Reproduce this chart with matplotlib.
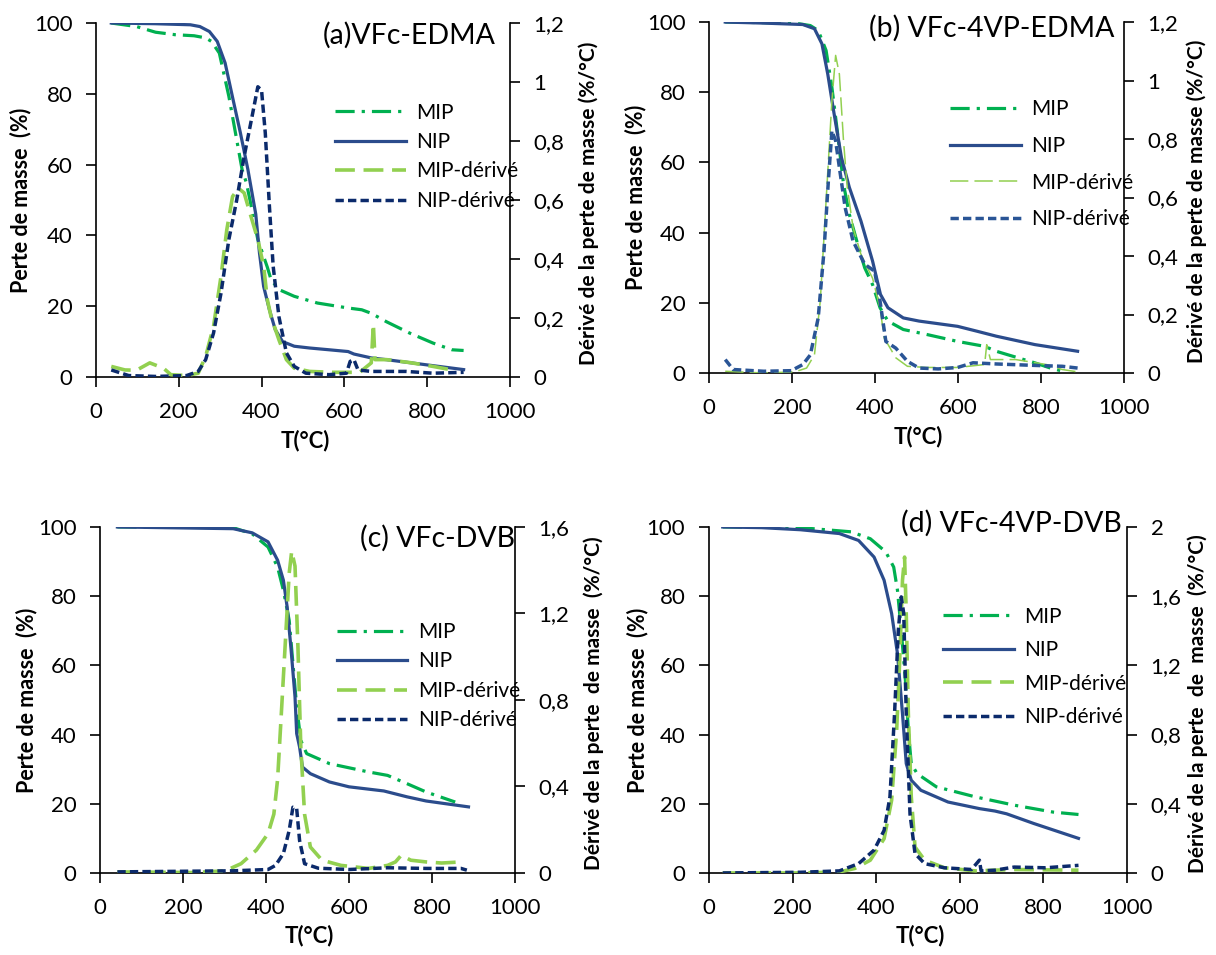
import matplotlib
matplotlib.use('Agg')
import matplotlib.pyplot as plt
from matplotlib.ticker import FuncFormatter

plt.rcParams['font.family'] = ['Lato', 'DejaVu Sans']

green = '#00b050'       # MIP
blue = '#2b4c8c'        # NIP
light = '#92d050'       # MIP-derive
navy = '#0b2a6b'        # NIP-derive

# ---------------- (a) VFc-EDMA ----------------
T_a_mip = [37, 98, 144, 191, 237, 265, 279, 298, 321, 340, 353, 363, 372, 391, 414, 423, 442, 479, 535, 609, 642, 665, 702, 758, 814, 860, 888]
mip_a = [100, 99, 97.4, 96.7, 96.4, 95.8, 94.8, 91.5, 79.3, 67, 58.6, 55, 50, 38.8, 31, 27.5, 24.7, 22.8, 20.9, 19.5, 19, 18, 15.6, 12.4, 9.6, 7.7, 7.5]
T_a_nip = [37, 144, 228, 251, 274, 293, 312, 330, 349, 367, 386, 395, 405, 419, 433, 451, 479, 516, 563, 609, 623, 665, 702, 795, 888]
nip_a = [100, 99.8, 99.5, 99, 97.6, 94.8, 88.7, 79, 68.9, 58.6, 46, 35, 25.6, 19, 13.4, 10, 8.7, 8.2, 7.7, 7.2, 6.5, 5.4, 4.9, 3.5, 2.1]
T_a_dmip = [37, 70, 98, 130, 163, 181, 219, 247, 265, 284, 302, 316, 330, 344, 358, 372, 391, 405, 414, 423, 442, 460, 479, 516, 572, 637, 665, 670, 674, 702, 758, 814, 860]
dmip_a = [0.036, 0.024, 0.023, 0.048, 0.030, 0.008, 0.005, 0.013, 0.070, 0.172, 0.341, 0.499, 0.612, 0.640, 0.624, 0.556, 0.466, 0.376, 0.262, 0.204, 0.126, 0.059, 0.030, 0.019, 0.016, 0.016, 0.048, 0.180, 0.059, 0.059, 0.049, 0.036, 0.024]
T_a_dnip = [37, 79, 144, 219, 247, 265, 284, 302, 321, 340, 358, 377, 391, 400, 409, 419, 428, 442, 460, 479, 507, 563, 605, 614, 623, 633, 665, 749, 814, 888]
dnip_a = [0.024, 0.005, 0.002, 0.005, 0.019, 0.059, 0.149, 0.284, 0.466, 0.600, 0.748, 0.883, 0.984, 0.972, 0.827, 0.578, 0.376, 0.204, 0.082, 0.036, 0.013, 0.008, 0.013, 0.053, 0.059, 0.024, 0.019, 0.019, 0.013, 0.016]

# ---------------- (b) VFc-4VP-EDMA ----------------
T_b_mip = [39, 207, 244, 263, 282, 296, 310, 324, 338, 356, 375, 394, 412, 431, 468, 524, 599, 664, 692, 720, 785, 823, 860]
mip_b = [100, 99.7, 99, 97.6, 91.9, 81.4, 68, 53.8, 45.2, 37.6, 30, 25.2, 18.6, 14.8, 12.4, 11, 9, 7.6, 6.2, 5.2, 2.9, 1.4, 0.3]
T_b_nip = [39, 132, 226, 254, 272, 286, 300, 319, 338, 366, 394, 413, 431, 468, 506, 599, 646, 692, 785, 888]
nip_b = [100, 99.7, 99.3, 98.1, 93.8, 85.2, 74.8, 61.4, 52.9, 43.3, 31.9, 22.4, 18.6, 15.7, 14.8, 13.3, 11.9, 10.5, 8.1, 6.2]
T_b_dmip = [39, 132, 207, 235, 254, 268, 282, 296, 305, 314, 324, 333, 347, 366, 394, 412, 422, 450, 478, 524, 599, 664, 669, 678, 739, 813, 851, 888]
dmip_b = [0.006, 0.0, 0.004, 0.017, 0.062, 0.246, 0.588, 0.931, 1.086, 1.022, 0.794, 0.635, 0.497, 0.406, 0.324, 0.223, 0.120, 0.052, 0.023, 0.019, 0.019, 0.029, 0.097, 0.046, 0.046, 0.029, 0.012, 0.004]
T_b_dnip = [39, 58, 132, 198, 226, 244, 263, 277, 287, 296, 305, 314, 328, 347, 375, 399, 412, 426, 450, 478, 506, 552, 599, 636, 692, 785, 851, 888]
dnip_b = [0.046, 0.012, 0.006, 0.008, 0.029, 0.062, 0.188, 0.418, 0.646, 0.828, 0.794, 0.703, 0.565, 0.451, 0.372, 0.348, 0.246, 0.108, 0.085, 0.040, 0.017, 0.014, 0.019, 0.035, 0.031, 0.026, 0.023, 0.017]

# ---------------- (c) VFc-DVB ----------------
T_c_mip = [42, 321, 367, 405, 428, 442, 456, 465, 474, 484, 498, 553, 647, 693, 740, 786, 856]
mip_c = [100, 99.8, 98, 94.2, 88.4, 81.7, 73, 60.5, 48, 38.3, 34.5, 31.6, 29.2, 28.2, 25.8, 23.4, 20.5]
T_c_nip = [42, 321, 367, 405, 428, 442, 451, 460, 470, 474, 481, 488, 507, 553, 600, 656, 684, 740, 786, 888]
nip_c = [100, 99.5, 98.3, 95.7, 90.4, 84.6, 76.9, 65.3, 50.9, 40.3, 36.4, 30.6, 28.7, 26.3, 24.9, 24.1, 23.7, 22, 20.8, 19.1]
T_c_dmip = [42, 228, 302, 340, 377, 405, 419, 428, 437, 447, 456, 462, 470, 477, 484, 493, 507, 535, 581, 647, 693, 712, 726, 749, 786, 823, 870]
dmip_c = [0.005, 0.002, 0.010, 0.043, 0.106, 0.182, 0.272, 0.432, 0.736, 1.078, 1.387, 1.488, 1.419, 1.048, 0.582, 0.272, 0.120, 0.059, 0.035, 0.021, 0.035, 0.051, 0.082, 0.059, 0.051, 0.046, 0.051]
T_c_dnip = [42, 321, 405, 423, 442, 456, 465, 474, 481, 493, 526, 600, 693, 786, 870, 884]
dnip_c = [0.005, 0.010, 0.016, 0.035, 0.090, 0.197, 0.304, 0.298, 0.150, 0.043, 0.022, 0.016, 0.024, 0.021, 0.021, 0.013]

# ---------------- (d) VFc-4VP-DVB ----------------
T_d_mip = [33, 219, 340, 386, 423, 442, 451, 460, 470, 477, 484, 498, 544, 637, 730, 823, 884]
mip_d = [100, 99.8, 98.6, 96.6, 92.8, 88.4, 81.7, 70.1, 55.7, 41.2, 31.6, 28.7, 24.9, 22, 19.6, 17.6, 16.9]
T_d_nip = [33, 126, 219, 312, 358, 395, 419, 437, 451, 463, 472, 484, 507, 572, 647, 684, 712, 777, 884]
nip_d = [100, 99.8, 99.2, 98.1, 96.1, 91.3, 84.6, 75, 63.4, 46, 31.6, 26.8, 23.9, 20.5, 18.6, 17.9, 17.1, 14.3, 10]
T_d_dmip = [33, 219, 312, 349, 386, 419, 437, 449, 456, 463, 468, 472, 477, 484, 493, 516, 563, 637, 730, 884]
dmip_d = [0, 0, 0.006, 0.026, 0.074, 0.198, 0.42, 0.824, 1.21, 1.692, 1.826, 1.5, 0.92, 0.44, 0.15, 0.074, 0.03, 0.012, 0.02, 0.016]
T_d_dnip = [33, 219, 312, 358, 395, 419, 433, 444, 453, 460, 466, 472, 481, 493, 516, 563, 628, 647, 651, 684, 730, 805, 884]
dnip_d = [0, 0.004, 0.012, 0.054, 0.132, 0.246, 0.44, 0.92, 1.402, 1.596, 1.5, 0.92, 0.34, 0.112, 0.054, 0.03, 0.02, 0.074, 0.012, 0.016, 0.034, 0.03, 0.044]

labels = ['MIP', 'NIP', 'MIP-dérivé', 'NIP-dérivé']
x_ticks = [0, 200, 400, 600, 800, 1000]
y_ticks = [0, 20, 40, 60, 80, 100]


def comma(v, pos):
    return '{:g}'.format(round(v, 2)).replace('.', ',')


fig = plt.figure(figsize=(12.16, 9.55), dpi=100)


def panel(rect, title, title_xy, rmax, rticks, rlabel, series, dmip_style, dnip_color,
          leg_xy, leg_sp, lx, rx):
    ax = fig.add_axes(rect)
    ax2 = ax.twinx()
    (tm, m), (tn, n), (tdm, dm), (tdn, dn) = series
    l1, = ax.plot(tm, m, color=green, lw=2.3, dashes=(6, 2.2, 1, 2.2))
    l2, = ax.plot(tn, n, color=blue, lw=2.3)
    l3, = ax2.plot(tdm, dm, color=light, **dmip_style)
    l4, = ax2.plot(tdn, dn, color=dnip_color, lw=2.5, dashes=(2.4, 1.2))
    ax.set_xlim(0, 1000)
    ax.set_ylim(0, 100)
    ax2.set_ylim(0, rmax)
    ax.set_xticks(x_ticks)
    ax.set_yticks(y_ticks)
    ax2.set_yticks(rticks)
    ax2.yaxis.set_major_formatter(FuncFormatter(comma))
    for a in (ax, ax2):
        a.spines['top'].set_visible(False)
        for s in a.spines.values():
            s.set_linewidth(1.2)
    ax.spines['right'].set_visible(False)
    ax2.spines['left'].set_visible(False)
    ax2.spines['bottom'].set_visible(False)
    ax.tick_params(axis='y', labelsize=16, length=7, width=1.2, pad=10)
    ax.tick_params(axis='x', labelsize=16, length=7, width=1.2, pad=11)
    ax2.tick_params(axis='y', labelsize=16, length=7, width=1.2, pad=10)
    ax.set_xlabel('T(°C)', fontsize=16, fontweight='bold')
    ax.xaxis.set_label_coords(0.505, -0.15)
    ax.set_ylabel('Perte de masse  (%)', fontsize=15.5, fontweight='bold')
    ax.yaxis.set_label_coords(lx, 0.5)
    ax2.set_ylabel(rlabel, fontsize=15, fontweight='bold')
    ax2.yaxis.set_label_coords(rx, 0.49)
    ax2.text(title_xy[0], title_xy[1], title, transform=ax.transAxes, ha='right', va='center', fontsize=20.5)
    ax2.legend([l1, l2, l3, l4], labels, loc='upper left', bbox_to_anchor=leg_xy, frameon=False,
               fontsize=15, handlelength=3.4, handletextpad=0.5, labelspacing=leg_sp,
               borderpad=0, borderaxespad=0)
    return ax, ax2


thick_dash = dict(lw=2.6, dashes=(5.5, 2.4))
thin_dash = dict(lw=1.1, dashes=(12, 4))

panel([0.0789, 0.6052, 0.3405, 0.3707], '(a)VFc-EDMA', (0.966, 0.966), 1.2,
      [0, 0.2, 0.4, 0.6, 0.8, 1.0, 1.2], 'Dérivé de la perte de masse (%/°C)',
      [(T_a_mip, mip_a), (T_a_nip, nip_a), (T_a_dmip, dmip_a), (T_a_dnip, dnip_a)],
      thick_dash, navy, (0.577, 0.775), 0.45, -0.155, 1.165)

panel([0.5831, 0.6094, 0.3413, 0.3675], '(b) VFc-4VP-EDMA', (0.976, 0.983), 1.2,
      [0, 0.2, 0.4, 0.6, 0.8, 1.0, 1.2], 'Dérivé de la perte de masse (%/°C)',
      [(T_b_mip, mip_b), (T_b_nip, nip_b), (T_b_dmip, dmip_b), (T_b_dnip, dnip_b)],
      thin_dash, '#2a5596', (0.58, 0.78), 0.8, -0.15, 1.15)

panel([0.0822, 0.0859, 0.3413, 0.3623], '(c) VFc-DVB', (1.0, 0.968), 1.6,
      [0, 0.4, 0.8, 1.2, 1.6], 'Dérivé de la perte  de masse  (%/°C)',
      [(T_c_mip, mip_c), (T_c_nip, nip_c), (T_c_dmip, dmip_c), (T_c_dnip, dnip_c)],
      thick_dash, navy, (0.57, 0.725), 0.45, -0.152, 1.165)

panel([0.583, 0.0859, 0.3438, 0.3623], '(d) VFc-4VP-DVB', (0.988, 1.01), 2.0,
      [0, 0.4, 0.8, 1.2, 1.6, 2.0], 'Dérivé de la perte  de  masse  (%/°C)',
      [(T_d_mip, mip_d), (T_d_nip, nip_d), (T_d_dmip, dmip_d), (T_d_dnip, dnip_d)],
      thick_dash, navy, (0.56, 0.77), 0.65, -0.144, 1.145)

fig.savefig('out.png', dpi=100)
